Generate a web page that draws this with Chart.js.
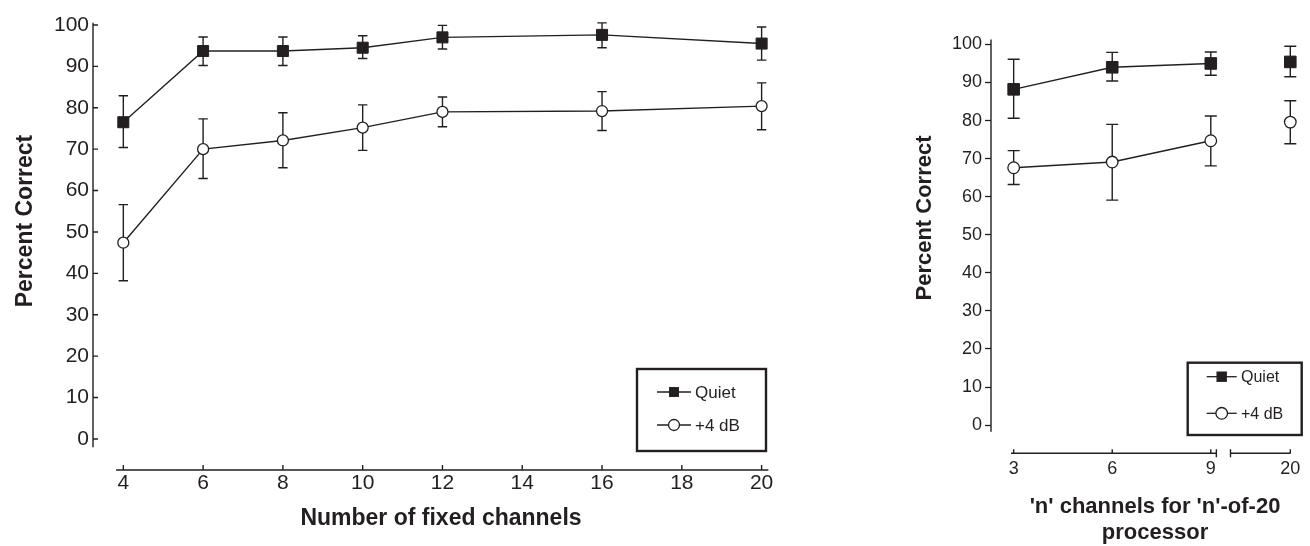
<!DOCTYPE html>
<html lang="en">
<head>
  <meta charset="UTF-8" />
  <title>Percent Correct - fixed channels and n-of-20</title>
  <script src="https://cdn.jsdelivr.net/npm/chart.js"></script>
  <style>
    html, body { margin: 0; padding: 0; background: #fff; }
    body { width: 1310px; height: 546px; position: relative; overflow: hidden; }
    .panel { position: absolute; top: 0; height: 546px; }
    #left { left: 0; width: 800px; }
    #right { left: 880px; width: 430px; }
  </style>
</head>
<body>
  <div class="panel" id="left"><canvas id="fixedChart"></canvas></div>
  <div class="panel" id="right"><canvas id="nofmChart"></canvas></div>

  <script>
    const ink = '#231f20';
    const percentTicks = [0, 10, 20, 30, 40, 50, 60, 70, 80, 90, 100];
    const seriesNames = ['Quiet', '+4 dB'];

    // left panel: fixed channels
    const fixedChannels = [4, 6, 8, 10, 12, 16, 20];
    const fixedTicks = [4, 6, 8, 10, 12, 14, 16, 18, 20];
    const fixedQuiet   = [76.5, 93.7, 93.7, 94.5, 97.0, 97.6, 95.5];
    const fixedQuietHi = [82.9, 97.1, 97.1, 97.4, 99.9, 100.5, 99.5];
    const fixedQuietLo = [70.4, 90.2, 90.2, 91.9, 94.2, 94.5, 91.5];
    const fixedNoise   = [47.4, 70.0, 72.1, 75.2, 79.0, 79.2, 80.4];
    const fixedNoiseHi = [56.6, 77.3, 78.8, 80.7, 82.6, 83.9, 86.0];
    const fixedNoiseLo = [38.2, 62.9, 65.5, 69.7, 75.4, 74.5, 74.7];

    // right panel: n-of-20, axis broken between 9 and 20
    const nLabels    = ['3', '6', '9', '20'];
    const nPositions = [3, 6, 9, 11.42];
    const nQuiet   = [88.2, 94.0, 95.0, 95.4];
    const nQuietHi = [96.1, 97.9, 98.0, 99.5];
    const nQuietLo = [80.6, 90.4, 91.9, 91.5];
    const nNoise   = [67.6, 69.1, 74.7, 79.6];
    const nNoiseHi = [72.1, 79.0, 81.2, 85.2];
    const nNoiseLo = [63.2, 59.1, 68.1, 73.9];
    const nBreak = 9.4;

    Chart.defaults.font.family = '"Liberation Sans", Arial, Helvetica, sans-serif';
    Chart.defaults.color = ink;

    const toPoints = (xs, ys) => xs.map((x, i) => ({ x: x, y: ys[i] }));

    // error bars, detached axis lines, boxed legend and axis titles
    const paperStyle = {
      id: 'paperStyle',
      beforeDatasetsDraw(chart, args, o) {
        const ctx = chart.ctx, xs = chart.scales.x, ys = chart.scales.y;
        ctx.save();
        ctx.strokeStyle = ink;
        ctx.lineWidth = 1.4;
        chart.data.datasets.forEach(ds => {
          ds.data.forEach((p, i) => {
            const x = xs.getPixelForValue(p.x);
            const hi = ys.getPixelForValue(ds.errHi[i]);
            const lo = ys.getPixelForValue(ds.errLo[i]);
            ctx.beginPath();
            ctx.moveTo(x, hi); ctx.lineTo(x, lo);
            ctx.moveTo(x - o.cap, hi); ctx.lineTo(x + o.cap, hi);
            ctx.moveTo(x - o.cap, lo); ctx.lineTo(x + o.cap, lo);
            ctx.stroke();
          });
        });
        ctx.restore();
      },
      afterDraw(chart, args, o) {
        const ctx = chart.ctx, xs = chart.scales.x, ys = chart.scales.y;
        const area = chart.chartArea;
        ctx.save();
        ctx.strokeStyle = ink;
        ctx.fillStyle = ink;
        ctx.lineWidth = 1.4;

        // y axis line (+ inward ticks where the panel has them)
        ctx.beginPath();
        ctx.moveTo(area.left, ys.getPixelForValue(o.ySpan[0]));
        ctx.lineTo(area.left, ys.getPixelForValue(o.ySpan[1]));
        if (o.yTickIn) {
          ys.ticks.forEach(t => {
            const y = ys.getPixelForValue(t.value);
            ctx.moveTo(area.left, y);
            ctx.lineTo(area.left + o.yTickIn, y);
          });
        }
        ctx.stroke();

        // x axis line segments
        const yb = area.bottom;
        ctx.beginPath();
        o.xSegments.forEach(seg => {
          ctx.moveTo(xs.getPixelForValue(seg[0]), yb);
          ctx.lineTo(xs.getPixelForValue(seg[1]), yb);
        });
        xs.ticks.forEach(t => {
          const x = xs.getPixelForValue(t.value);
          ctx.moveTo(x, yb);
          ctx.lineTo(x, yb - o.xTickLen);
        });
        (o.breakMarks || []).forEach(v => {
          const x = xs.getPixelForValue(v);
          ctx.moveTo(x, yb - 4);
          ctx.lineTo(x, yb + 4);
        });
        ctx.stroke();

        // legend
        const lg = o.legend;
        ctx.lineWidth = 2.4;
        ctx.strokeRect(lg.x, lg.y, lg.w, lg.h);
        ctx.font = lg.fontSize + 'px "Liberation Sans", Arial, sans-serif';
        ctx.textBaseline = 'middle';
        ctx.textAlign = 'left';
        chart.data.datasets.forEach((ds, i) => {
          const y = lg.rows[i];
          const mx = (lg.lineX[0] + lg.lineX[1]) / 2;
          ctx.lineWidth = 1.3;
          ctx.beginPath();
          ctx.moveTo(lg.lineX[0], y);
          ctx.lineTo(lg.lineX[1], y);
          ctx.stroke();
          if (ds.pointStyle === 'rect') {
            const s = ds.pointRadius * Math.SQRT1_2 * 0.9;
            ctx.fillRect(mx - s, y - s, 2 * s, 2 * s);
          } else {
            ctx.beginPath();
            ctx.arc(mx, y, ds.pointRadius, 0, Math.PI * 2);
            ctx.fillStyle = '#fff';
            ctx.fill();
            ctx.stroke();
            ctx.fillStyle = ink;
          }
          ctx.fillText(ds.label, lg.textX, y + 1);
        });

        // axis titles
        o.titles.forEach(t => {
          ctx.save();
          ctx.translate(t.x, t.y);
          if (t.rotate) ctx.rotate(-Math.PI / 2);
          ctx.font = 'bold ' + t.size + 'px "Liberation Sans", Arial, sans-serif';
          ctx.textAlign = 'center';
          ctx.textBaseline = 'middle';
          t.text.forEach((line, k) => ctx.fillText(line, 0, k * t.lineHeight));
          ctx.restore();
        });
        ctx.restore();
      }
    };

    function makeChart(id, cfg) {
      const quietStyle = {
        borderColor: ink, backgroundColor: ink, borderWidth: 1.4,
        pointStyle: 'rect', pointRadius: cfg.rectRadius, pointHoverRadius: cfg.rectRadius,
        pointBackgroundColor: ink, pointBorderColor: ink, pointBorderWidth: 1
      };
      const noiseStyle = {
        borderColor: ink, backgroundColor: '#fff', borderWidth: 1.4,
        pointStyle: 'circle', pointRadius: cfg.circleRadius, pointHoverRadius: cfg.circleRadius,
        pointBackgroundColor: '#fff', pointBorderColor: ink, pointBorderWidth: 1.3
      };
      // no connecting line across the axis break
      const brk = cfg.breakAt;
      const hideBreak = c => (brk !== null && c.p0.parsed.x < brk && c.p1.parsed.x > brk) ? 'rgba(0,0,0,0)' : ink;

      return new Chart(document.getElementById(id), {
        type: 'line',
        data: {
          datasets: [
            Object.assign({ label: seriesNames[0], data: toPoints(cfg.x, cfg.quiet),
              errHi: cfg.quietHi, errLo: cfg.quietLo, segment: { borderColor: hideBreak }, clip: false }, quietStyle),
            Object.assign({ label: seriesNames[1], data: toPoints(cfg.x, cfg.noise),
              errHi: cfg.noiseHi, errLo: cfg.noiseLo, segment: { borderColor: hideBreak }, clip: false }, noiseStyle)
          ]
        },
        options: {
          responsive: true,
          maintainAspectRatio: false,
          animation: false,
          layout: { padding: cfg.padding },
          plugins: {
            legend: { display: false },
            tooltip: { enabled: false },
            paperStyle: cfg.paper
          },
          scales: {
            x: {
              type: 'linear',
              min: cfg.xMin, max: cfg.xMax,
              afterBuildTicks: s => { s.ticks = cfg.xTicks.map(v => ({ value: v })); },
              afterFit: s => { s.height = cfg.xHeight; },
              grid: { display: false },
              border: { display: false },
              ticks: {
                autoSkip: false, maxRotation: 0, padding: cfg.xPad,
                font: { size: cfg.tickSize }, color: ink,
                callback: cfg.xLabel
              }
            },
            y: {
              min: cfg.yMin, max: cfg.yMax,
              afterBuildTicks: s => { s.ticks = percentTicks.map(v => ({ value: v })); },
              afterFit: s => { s.width = cfg.yWidth; },
              grid: { drawOnChartArea: false, drawTicks: cfg.yTickLen > 0, tickLength: cfg.yTickLen, tickColor: ink, tickWidth: 1.3 },
              border: { display: false },
              ticks: { padding: cfg.yPad, font: { size: cfg.tickSize }, color: ink }
            }
          }
        },
        plugins: [paperStyle]
      });
    }

    makeChart('fixedChart', {
      x: fixedChannels, quiet: fixedQuiet, quietHi: fixedQuietHi, quietLo: fixedQuietLo,
      noise: fixedNoise, noiseHi: fixedNoiseHi, noiseLo: fixedNoiseLo,
      xTicks: fixedTicks, xLabel: v => String(v), breakAt: null,
      xMin: 3.24, xMax: 20.16, yMin: -7.5, yMax: 101,
      padding: { top: 20.8, right: 32, bottom: 0, left: 0 },
      xHeight: 76, yWidth: 93, yTickLen: 0, xPad: -7, yPad: 4, tickSize: 21,
      rectRadius: 7.8, circleRadius: 5.5,
      paper: {
        cap: 4.7, ySpan: [-2, 100.5], yTickIn: 5, xSegments: [[3.82, 20.17]], xTickLen: 5,
        legend: { x: 637, y: 369, w: 129, h: 82, rows: [392, 425], lineX: [657, 691], textX: 695, fontSize: 17 },
        titles: [
          { text: ['Percent Correct'], x: 26, y: 221, rotate: true, size: 23, lineHeight: 26 },
          { text: ['Number of fixed channels'], x: 441, y: 519, rotate: false, size: 23, lineHeight: 26 }
        ]
      }
    });

    makeChart('nofmChart', {
      x: nPositions, quiet: nQuiet, quietHi: nQuietHi, quietLo: nQuietLo,
      noise: nNoise, noiseHi: nNoiseHi, noiseLo: nNoiseLo,
      xTicks: nPositions, xLabel: (v, i) => nLabels[i], breakAt: nBreak,
      xMin: 2.31, xMax: 11.74, yMin: -7.4, yMax: 102,
      padding: { top: 36.8, right: 0, bottom: 0, left: 0 },
      xHeight: 92.7, yWidth: 111, yTickLen: 6, xPad: -3, yPad: 3, tickSize: 18,
      rectRadius: 8.2, circleRadius: 5.8,
      paper: {
        cap: 6, ySpan: [-1.75, 101.3], xSegments: [[2.92, 9.17], [9.6, 11.43]], xTickLen: 4,
        breakMarks: [9.17, 9.6],
        legend: { x: 307.7, y: 362.7, w: 114, h: 72.3, rows: [376.7, 413.3], lineX: [326.7, 356.7], textX: 361, fontSize: 16 },
        titles: [
          { text: ['Percent Correct'], x: 45, y: 218, rotate: true, size: 22, lineHeight: 26 },
          { text: ["'n' channels for 'n'-of-20", 'processor'], x: 275, y: 507, rotate: false, size: 22, lineHeight: 26 }
        ]
      }
    });
  </script>
</body>
</html>
